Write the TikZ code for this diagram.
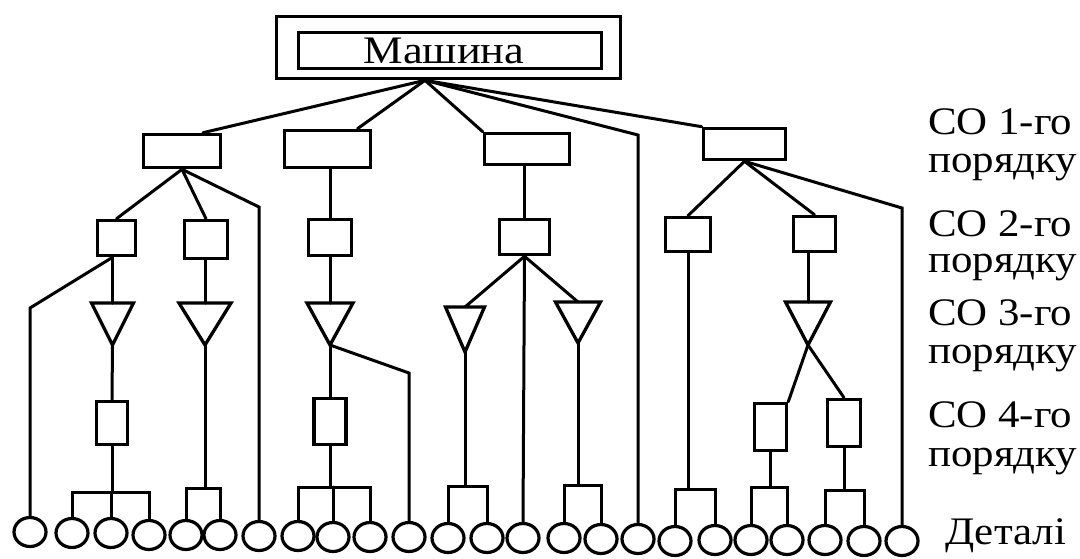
\documentclass[tikz,border=0pt]{standalone}
\usepackage{fontspec}
\setmainfont{Liberation Serif}
\usetikzlibrary{shapes.geometric,calc}

% one unit = 1pt, y axis pointing down
\tikzset{
  conn/.style={line width=3pt, line join=miter, line cap=round},
  blk/.style={draw, line width=3.6pt, inner sep=0pt},
  trishape/.style={draw, line width=3.3pt, line join=miter},
  part/.style={draw, ellipse, line width=3.2pt, inner sep=0pt,
               minimum width=32, minimum height=29},
  lbl/.style={anchor=base west, inner sep=0pt, font=\fontsize{39}{40}\selectfont},
}

% captions are set a little wider than the font's natural width
\newcommand\widetext[1]{\scalebox{1.1}[1]{#1}}

% downward triangle: name, x, top y, half width, height
\newcommand\vtri[5]{%
  \coordinate (#1) at (#2,#3);
  \coordinate (#1-tip) at (#2,#3+#5);
  \draw[trishape] (#2-#4,#3) -- (#2+#4,#3) -- (#1-tip) -- cycle;}

\begin{document}
\begin{tikzpicture}[x=1pt, y=-1pt]
\useasboundingbox (0,0) rectangle (1080,558);

% root
\node[blk, minimum width=344, minimum height=62] (mo) at (448.5,47.5) {};
\node[blk, minimum width=303, minimum height=36,
      font=\fontsize{39}{40}\selectfont] (m) at (450,50.5)
      {\hspace*{-12pt}\scalebox{1.14}[1]{Машина}};
\coordinate (apex) at ([xshift=-23.5pt]mo.south);

% first-order units
\node[blk, minimum width=77, minimum height=33] (a1) at (182,151) {};
\node[blk, minimum width=86, minimum height=37] (a2) at (327.5,149) {};
\node[blk, minimum width=85, minimum height=31] (a3) at (527,149) {};
\node[blk, minimum width=82, minimum height=31] (a4) at (744.5,144) {};

% second-order units
\node[blk, minimum width=38, minimum height=35] (b1) at (116.5,238) {};
\node[blk, minimum width=43, minimum height=38] (b2) at (206,239.5) {};
\node[blk, minimum width=43, minimum height=36] (b3) at (330,237.5) {};
\node[blk, minimum width=50, minimum height=35] (b4) at (524.5,237) {};
\node[blk, minimum width=45, minimum height=34] (b5) at (688,234.5) {};
\node[blk, minimum width=42, minimum height=35] (b6) at (814.5,234) {};

% third-order units
\vtri{t1}{112.5}{303}{21}{42}
\vtri{t2}{205}{303}{26}{42}
\vtri{t3}{330}{303}{23}{42}
\vtri{t4}{465}{307}{19.5}{45}
\vtri{t5}{578}{302}{22.5}{41}
\vtri{t6}{808}{302}{22.5}{43}

% fourth-order units
\node[blk, minimum width=31, minimum height=43] (e1) at (112,423) {};
\node[blk, minimum width=32, minimum height=46] (e2) at (330,421.5) {};
\node[blk, minimum width=32, minimum height=47] (e3) at (770.5,427) {};
\node[blk, minimum width=33, minimum height=47] (e4) at (844,423) {};

% parts
\foreach \n/\x/\y in {1/30/532, 2/72/533, 3/111/533, 4/149/535, 5/186/535,
  6/220/535, 7/259/536, 8/298/536, 9/333/537, 10/370/537, 11/409/537,
  12/448/538, 13/487/538, 14/523/538, 15/564/538, 16/601/539, 17/638/539,
  18/675/541, 19/715/540, 20/751/540, 21/787/540, 22/825/540, 23/864/541,
  24/902/541}
  \node[part] (o\n) at (\x,\y) {};

% bends and bracket joints
\coordinate (p1) at (638,135);
\coordinate (p2) at (259,207);
\coordinate (p3) at (902,208);
\coordinate (p4) at (30,308);
\coordinate (p5) at (409,373);
\coordinate (k1) at (112,492);
\coordinate (k2) at (205,488);
\coordinate (k3) at (330,487);
\coordinate (k4) at (465,486);
\coordinate (k5) at (578,485);
\coordinate (k6) at (688,489);
\coordinate (k7) at (770.5,487);
\coordinate (k8) at (844,490);

% root to first order
\draw[conn] (apex) -- ([xshift=21pt]a1.north);
\draw[conn] (apex) -- ([xshift=30pt]a2.north);
\draw[conn] (apex) -- (a3.north west);
\draw[conn] (apex) -- (p1) -- (o17.north);
\draw[conn] (apex) -- (a4.north west);

% first order to second order
\draw[conn] (a1.south) -- (b1.north);
\draw[conn] (a1.south) -- (b2.north);
\draw[conn] (a1.south) -- (p2) -- (o7.north);
\draw[conn] (b3.north |- a2.south) -- (b3.north);
\draw[conn] (b4.north |- a3.south) -- (b4.north);
\draw[conn] (a4.south) -- (b5.north);
\draw[conn] (a4.south) -- (b6.north);
\draw[conn] (a4.south) -- (p3) -- (o24.north);

% second order downwards
\draw[conn] (t1 |- b1.south) -- (t1);
\draw[conn] (t1 |- b1.south) -- (p4) -- (o1.north);
\draw[conn] (t2 |- b2.south) -- (t2);
\draw[conn] (t3 |- b3.south) -- (t3);
\draw[conn] (b4.south) -- (t4);
\draw[conn] (b4.south) -- (t5);
\draw[conn] (b4.south) -- (o14.north);
\draw[conn] (b5.south) -- (k6);
\draw[conn] (t6 |- b6.south) -- (t6);

% third order downwards
\draw[conn] (t1-tip) -- (e1.north);
\draw[conn] (t2-tip) -- (k2);
\draw[conn] (t3-tip) -- (e2.north);
\draw[conn] (t3-tip) -- (p5) -- (o11.north);
\draw[conn] (t4-tip) -- (k4);
\draw[conn] (t5-tip) -- (k5);
\draw[conn] (t6-tip) -- (e3.north east);
\draw[conn] (t6-tip) -- (e4.north);

% fourth order downwards
\draw[conn] (e1.south) -- (k1);
\draw[conn] (e2.south) -- (k3);
\draw[conn] (e3.south) -- (k7);
\draw[conn] (e4.south) -- (k8);

% brackets over the parts
\draw[conn] (o2.north) |- (k1) -| (o4.north);
\draw[conn] (o3.north |- k1) -- (o3.north);
\draw[conn] (o5.north) |- (k2) -| (o6.north);
\draw[conn] (o8.north) |- (k3) -| (o10.north);
\draw[conn] (o9.north |- k3) -- (o9.north);
\draw[conn] (o12.north) |- (k4) -| (o13.north);
\draw[conn] (o15.north) |- (k5) -| (o16.north);
\draw[conn] (o18.north) |- (k6) -| (o19.north);
\draw[conn] (o20.north) |- (k7) -| (o21.north);
\draw[conn] (o22.north) |- (k8) -| (o23.north);

% level captions
\node[lbl] (l1) at (928,134) {\widetext{СО 1-го}};
\node[lbl] (l2) at (928,172) {\widetext{порядку}};
\node[lbl] (l3) at (928,236) {\widetext{СО 2-го}};
\node[lbl] (l4) at (928,272) {\widetext{порядку}};
\node[lbl] (l5) at (928,325) {\widetext{СО 3-го}};
\node[lbl] (l6) at (928,363) {\widetext{порядку}};
\node[lbl] (l7) at (928,427) {\widetext{СО 4-го}};
\node[lbl] (l8) at (928,466) {\widetext{порядку}};
\node[lbl] (l9) at (945,544) {\widetext{Деталі}};
\end{tikzpicture}
\end{document}
